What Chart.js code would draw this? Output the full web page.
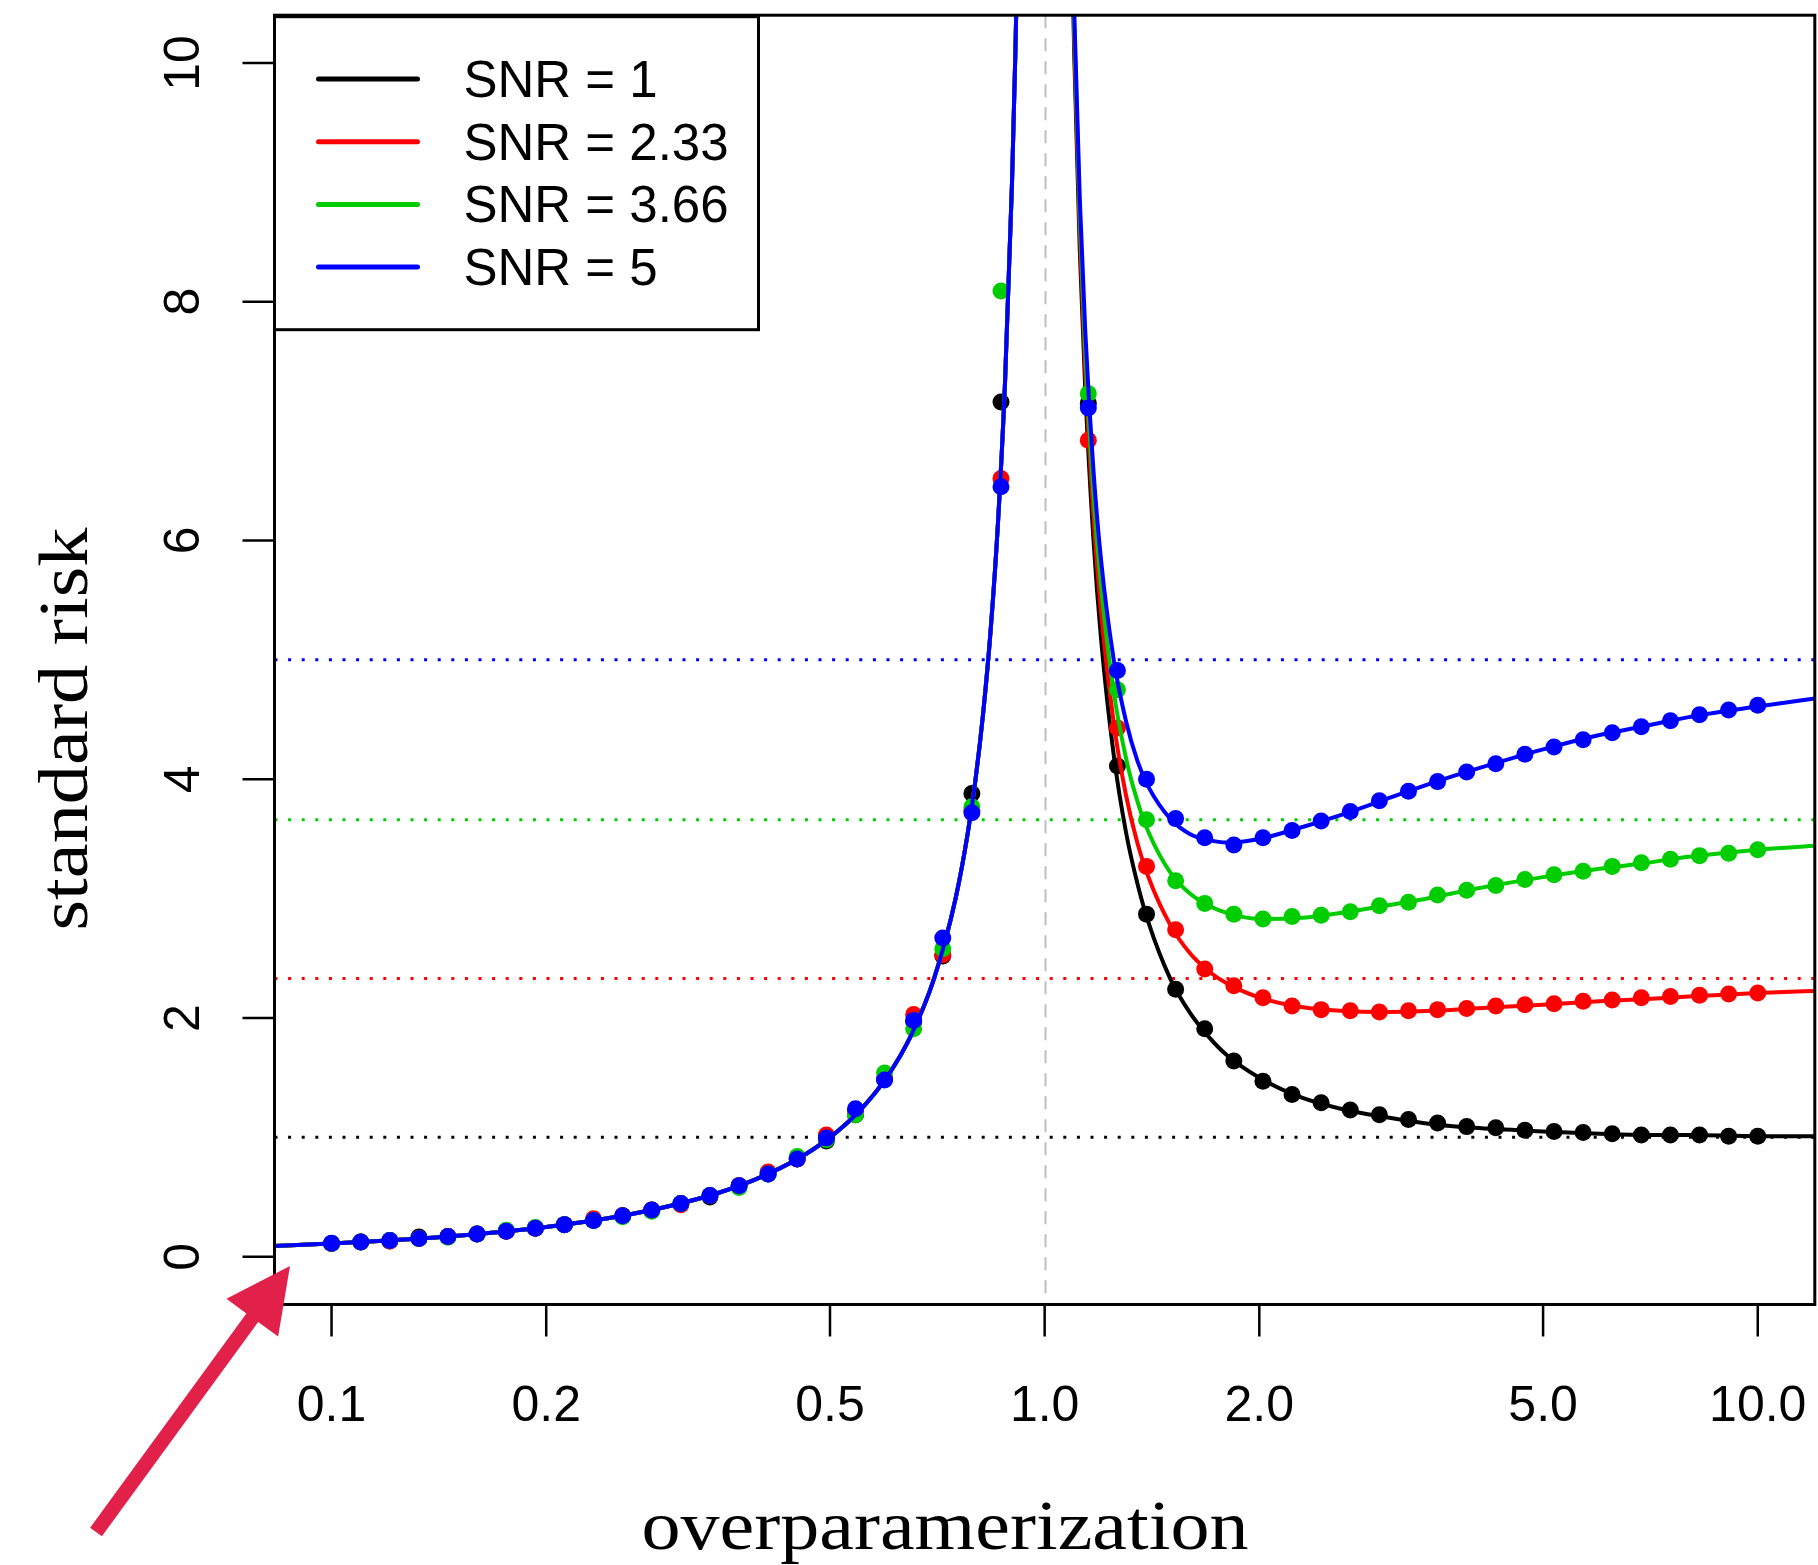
<!DOCTYPE html>
<html>
<head>
<meta charset="utf-8">
<script src="https://cdn.jsdelivr.net/npm/chart.js@4.4.0/dist/chart.umd.min.js"></script>
<style>
  html, body { margin: 0; padding: 0; background: #fff; }
  canvas { display: block; }
</style>
</head>
<body>
<canvas id="riskChart" width="1818" height="1565"></canvas>
<script>
// --- data ---
const snrLabels = ['SNR = 1', 'SNR = 2.33', 'SNR = 3.66', 'SNR = 5'];
const snrLevels = [1, 2.33, 3.66, 5];
const snrColors = ['#000000', '#ff0000', '#00cd00', '#0000ff'];

const xTicks = [0.1, 0.2, 0.5, 1, 2, 5, 10];
const xTickLabels = ['0.1', '0.2', '0.5', '1.0', '2.0', '5.0', '10.0'];
const yTicks = [0, 2, 4, 6, 8, 10];

// simulated points (50 gamma values, the ones near 1 are off the chart)
const gammaGrid = [0.1, 0.1099, 0.1207, 0.1326, 0.1456, 0.16, 0.1758, 0.1931, 0.2121, 0.233,
  0.256, 0.2812, 0.3089, 0.3393, 0.3728, 0.4095, 0.4498, 0.4942, 0.5429, 0.5964,
  0.6551, 0.7197, 0.7906, 0.8685, 0.9541, 1.0481, 1.1514, 1.2649, 1.3895, 1.5264,
  1.6768, 1.8421, 2.0236, 2.223, 2.4421, 2.6827, 2.9471, 3.2375, 3.5565, 3.9069,
  4.2919, 4.7149, 5.1795, 5.6899, 6.2506, 6.8665, 7.5431, 8.2864, 9.103, 10];

const pointsSnr1 = [0.111, 0.124, 0.137, 0.165, 0.170, 0.190, 0.213, 0.239, 0.269, 0.304,
  0.344, 0.391, 0.447, 0.500, 0.594, 0.694, 0.818, 0.970, 1.19, 1.49,
  1.97, 2.52, 3.88, 7.16, null, null, 7.15, 4.11, 2.87, 2.24,
  1.91, 1.64, 1.47, 1.36, 1.29, 1.23, 1.19, 1.15, 1.12, 1.09,
  1.08, 1.06, 1.05, 1.04, 1.03, 1.02, 1.02, 1.02, 1.01, 1.01];
const pointsSnr2 = [0.111, 0.124, 0.130, 0.153, 0.170, 0.190, 0.213, 0.239, 0.269, 0.318,
  0.344, 0.391, 0.435, 0.514, 0.594, 0.710, 0.818, 1.02, 1.22, 1.49,
  2.03, 2.53, 3.74, 6.52, null, null, 6.84, 4.43, 3.27, 2.74,
  2.41, 2.27, 2.17, 2.10, 2.07, 2.06, 2.05, 2.06, 2.07, 2.08,
  2.10, 2.11, 2.12, 2.14, 2.15, 2.17, 2.18, 2.19, 2.20, 2.21];
const pointsSnr3 = [0.111, 0.124, 0.137, 0.153, 0.163, 0.190, 0.222, 0.245, 0.269, 0.304,
  0.335, 0.382, 0.447, 0.514, 0.580, 0.694, 0.840, 0.980, 1.19, 1.54,
  1.91, 2.58, 3.77, 8.09, null, null, 7.23, 4.75, 3.66, 3.15,
  2.96, 2.87, 2.83, 2.85, 2.86, 2.89, 2.94, 2.97, 3.03, 3.07,
  3.11, 3.16, 3.20, 3.23, 3.27, 3.30, 3.33, 3.36, 3.38, 3.41];
const pointsSnr5 = [0.113, 0.124, 0.137, 0.153, 0.170, 0.190, 0.213, 0.239, 0.269, 0.304,
  0.344, 0.391, 0.447, 0.514, 0.594, 0.694, 0.818, 0.995, 1.24, 1.48,
  1.98, 2.67, 3.72, 6.45, null, null, 7.11, 4.91, 4.00, 3.67,
  3.51, 3.45, 3.51, 3.57, 3.65, 3.73, 3.82, 3.90, 3.98, 4.06,
  4.13, 4.21, 4.27, 4.33, 4.39, 4.44, 4.49, 4.54, 4.58, 4.62];

// theory curves: left branch is shared by all four SNRs
const curveLeftX = [0.08, 0.1, 0.12, 0.15, 0.2, 0.25, 0.3, 0.35, 0.4, 0.45, 0.5, 0.55, 0.6,
  0.65, 0.7, 0.75, 0.78, 0.8, 0.82, 0.84, 0.86, 0.88, 0.9, 0.91, 0.92, 0.93];
const curveLeftY = [0.087, 0.111, 0.136, 0.176, 0.25, 0.333, 0.429, 0.538, 0.667, 0.818, 1.0,
  1.222, 1.5, 1.857, 2.333, 3.0, 3.545, 4.0, 4.556, 5.25, 6.143, 7.333, 9.0, 10.11, 11.5, 13.29];
const curveRightX = [1.08, 1.1, 1.12, 1.14, 1.17, 1.2, 1.25, 1.3, 1.35, 1.4, 1.5, 1.6, 1.7,
  1.8, 2.0, 2.3, 2.6, 3.0, 3.5, 4, 5, 6, 7, 8, 10, 12.5];
const curveSnr1 = [12.57, 10.09, 8.44, 7.27, 6.03, 5.17, 4.2, 3.56, 3.12, 2.79, 2.33, 2.04, 1.84,
  1.69, 1.5, 1.33, 1.24, 1.17, 1.11, 1.08, 1.05, 1.03, 1.02, 1.02, 1.01, 1.01];
const curveSnr2 = [12.67, 10.21, 8.58, 7.43, 6.22, 5.39, 4.47, 3.87, 3.46, 3.17, 2.78, 2.54, 2.39,
  2.29, 2.17, 2.09, 2.06, 2.05, 2.06, 2.08, 2.11, 2.14, 2.16, 2.18, 2.21, 2.23];
const curveSnr3 = [12.77, 10.33, 8.73, 7.59, 6.41, 5.61, 4.73, 4.18, 3.81, 3.55, 3.22, 3.04, 2.94,
  2.88, 2.83, 2.84, 2.88, 2.94, 3.01, 3.08, 3.18, 3.25, 3.30, 3.35, 3.41, 3.45];
const curveSnr5 = [12.87, 10.45, 8.87, 7.76, 6.61, 5.83, 5.0, 4.49, 4.15, 3.93, 3.67, 3.54, 3.49,
  3.47, 3.5, 3.60, 3.70, 3.83, 3.97, 4.08, 4.25, 4.37, 4.45, 4.52, 4.61, 4.69];

const pointSeries = [pointsSnr1, pointsSnr2, pointsSnr3, pointsSnr5];
const curveSeries = [curveSnr1, curveSnr2, curveSnr3, curveSnr5];

// --- build datasets ---
function curveData(rightY) {
  const left = curveLeftX.map((x, i) => ({ x: x, y: curveLeftY[i] }));
  const right = curveRightX.map((x, i) => ({ x: x, y: rightY[i] }));
  return left.concat([{ x: 1, y: null }], right);
}

const datasets = [];
snrLabels.forEach((label, i) => {
  const depth = (snrLabels.length - 1 - i) * 2; // blue drawn last (on top)
  datasets.push({
    label: label,
    data: curveData(curveSeries[i]),
    showLine: true,
    borderColor: snrColors[i],
    borderWidth: 4,
    pointRadius: 0,
    cubicInterpolationMode: 'monotone',
    capBezierPoints: false,
    spanGaps: false,
    order: depth + 1
  });
  datasets.push({
    label: label + ' sim',
    data: gammaGrid.map((g, k) => ({ x: g, y: pointSeries[i][k] })),
    showLine: false,
    backgroundColor: snrColors[i],
    borderWidth: 0,
    pointRadius: 8.5,
    order: depth
  });
});

// --- R-style decorations ---
const rPlot = {
  id: 'rPlot',
  beforeDatasetsDraw(chart) {
    const { ctx, chartArea: a, scales: { x, y } } = chart;
    ctx.save();
    ctx.beginPath();
    ctx.rect(a.left, a.top, a.right - a.left, a.bottom - a.top);
    ctx.clip();

    // dashed line at the interpolation threshold
    const px = Math.round(x.getPixelForValue(1)) + 0.5;
    ctx.strokeStyle = '#bebebe';
    ctx.lineWidth = 2;
    ctx.setLineDash([13, 10]);
    ctx.beginPath();
    ctx.moveTo(px, a.top);
    ctx.lineTo(px, a.bottom);
    ctx.stroke();

    // dotted SNR levels
    ctx.lineWidth = 3;
    ctx.setLineDash([3, 10.6]);
    snrLevels.forEach((v, i) => {
      const py = y.getPixelForValue(v);
      ctx.strokeStyle = snrColors[i];
      ctx.beginPath();
      ctx.moveTo(a.left, py);
      ctx.lineTo(a.right, py);
      ctx.stroke();
    });
    ctx.restore();
  },
  afterDraw(chart) {
    const { ctx, chartArea: a, scales: { x, y } } = chart;
    ctx.save();
    ctx.fillStyle = '#000';
    ctx.strokeStyle = '#000';

    // ticks and labels
    ctx.lineWidth = 2.5;
    ctx.font = '50px "Liberation Sans", Arial, sans-serif';
    ctx.textAlign = 'center';
    ctx.textBaseline = 'alphabetic';
    xTicks.forEach((t, i) => {
      const px = x.getPixelForValue(t);
      ctx.beginPath();
      ctx.moveTo(px, a.bottom);
      ctx.lineTo(px, a.bottom + 32);
      ctx.stroke();
      ctx.fillText(xTickLabels[i], px, a.bottom + 116);
    });
    yTicks.forEach(t => {
      const py = y.getPixelForValue(t);
      ctx.beginPath();
      ctx.moveTo(a.left - 32, py);
      ctx.lineTo(a.left, py);
      ctx.stroke();
      ctx.save();
      ctx.translate(a.left - 76, py);
      ctx.rotate(-Math.PI / 2);
      ctx.fillText(String(t), 0, 0);
      ctx.restore();
    });

    // axis titles (serif, stretched to the reference width)
    ctx.font = '70px "Liberation Serif", "Times New Roman", serif';
    const xTitle = 'overparamerization';
    let w = ctx.measureText(xTitle).width;
    ctx.save();
    ctx.translate(945, 1549);
    ctx.scale(607 / w, 1);
    ctx.fillText(xTitle, 0, 0);
    ctx.restore();

    const yTitle = 'standard risk';
    w = ctx.measureText(yTitle).width;
    ctx.save();
    ctx.translate(87, 729);
    ctx.rotate(-Math.PI / 2);
    ctx.scale(403 / w, 1);
    ctx.fillText(yTitle, 0, 0);
    ctx.restore();

    // legend box
    const lx = a.left, ly = a.top + 1.5, lw = 484, lh = 313;
    ctx.fillStyle = '#fff';
    ctx.fillRect(lx, ly, lw, lh);
    ctx.lineWidth = 3;
    ctx.strokeRect(lx, ly, lw, lh);
    ctx.font = '51px "Liberation Sans", Arial, sans-serif';
    ctx.textAlign = 'left';
    ctx.lineCap = 'round';
    snrLabels.forEach((label, i) => {
      const rowY = 79 + i * 62.7;
      ctx.strokeStyle = snrColors[i];
      ctx.lineWidth = 5;
      ctx.beginPath();
      ctx.moveTo(lx + 44, rowY);
      ctx.lineTo(lx + 143, rowY);
      ctx.stroke();
      ctx.fillStyle = '#000';
      ctx.fillText(label, lx + 189, rowY + 18);
    });
    ctx.lineCap = 'butt';

    // plot frame
    ctx.strokeStyle = '#000';
    ctx.lineWidth = 3;
    ctx.strokeRect(a.left, a.top, a.right - a.left, a.bottom - a.top);

    // red annotation arrow
    const tip = { x: 290, y: 1266 }, tail = { x: 96, y: 1532 };
    const dx = tip.x - tail.x, dy = tip.y - tail.y;
    const len = Math.hypot(dx, dy);
    const ux = dx / len, uy = dy / len, nx = -uy, ny = ux;
    const headLen = 64, headHalf = 32, shaftHalf = 7.3;
    const bx = tip.x - ux * headLen, by = tip.y - uy * headLen;
    ctx.fillStyle = '#e2214a';
    ctx.beginPath();
    ctx.moveTo(tail.x + nx * shaftHalf, tail.y + ny * shaftHalf);
    ctx.lineTo(bx + nx * shaftHalf, by + ny * shaftHalf);
    ctx.lineTo(bx + nx * headHalf, by + ny * headHalf);
    ctx.lineTo(tip.x, tip.y);
    ctx.lineTo(bx - nx * headHalf, by - ny * headHalf);
    ctx.lineTo(bx - nx * shaftHalf, by - ny * shaftHalf);
    ctx.lineTo(tail.x - nx * shaftHalf, tail.y - ny * shaftHalf);
    ctx.closePath();
    ctx.fill();

    ctx.restore();
  }
};

new Chart(document.getElementById('riskChart'), {
  type: 'scatter',
  data: { datasets: datasets },
  options: {
    responsive: false,
    devicePixelRatio: 1,
    animation: false,
    events: [],
    layout: {
      autoPadding: false,
      padding: { left: 274.5, right: 3.2, top: 15.2, bottom: 260.5 }
    },
    scales: {
      x: { type: 'logarithmic', min: 0.083176, max: 12.0226, display: false },
      y: { type: 'linear', min: -0.4, max: 10.4, display: false }
    },
    plugins: {
      legend: { display: false },
      tooltip: { enabled: false }
    }
  },
  plugins: [rPlot]
});
</script>
</body>
</html>
